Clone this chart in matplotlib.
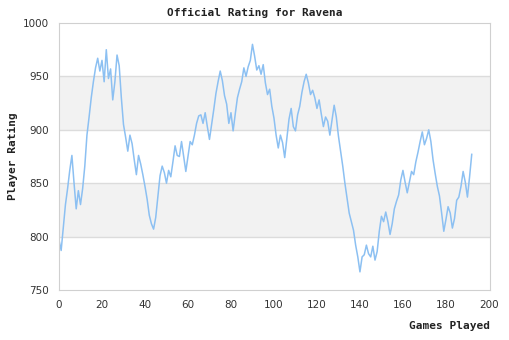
import numpy as np
import matplotlib.pyplot as plt

# ratings, one per game
ratings = [797, 787, 808, 830, 845, 862, 876, 850, 826, 843,
           830, 845, 866, 895, 912, 930, 945, 958, 967, 955,
           965, 945, 975, 948, 957, 928, 945, 970, 960, 930,
           905, 893, 880, 895, 887, 872, 858, 876, 868, 858,
           847, 835, 820, 812, 807, 818, 838, 857, 866, 860,
           850, 862, 856, 870, 885, 876, 875, 889, 875, 861,
           875, 889, 886, 895, 906, 913, 914, 906, 916, 903,
           891, 905, 919, 934, 945, 955, 946, 932, 924, 906,
           916, 899, 915, 930, 938, 945, 958, 950, 959, 965,
           980, 969, 956, 960, 952, 961, 944, 933, 938, 922,
           911, 895, 883, 895, 888, 874, 892, 910, 920, 903,
           899, 914, 922, 935, 945, 952, 944, 933, 937, 930,
           920, 928, 915, 903, 912, 908, 895, 909, 923, 912,
           894, 880, 866, 850, 836, 822, 814, 806, 792, 781,
           767, 781, 783, 792, 784, 781, 791, 778, 786, 805,
           819, 814, 823, 814, 802, 812, 826, 833, 839, 853,
           862, 851, 841, 851, 861, 858, 870, 879, 889, 898,
           886, 892, 900, 889, 872, 859, 847, 838, 822, 805,
           816, 828, 822, 808, 817, 834, 837, 847, 861, 851,
           837, 856, 877]
games = np.arange(len(ratings))

yticks = [750, 800, 850, 900, 950, 1000]
xticks = [0, 20, 40, 60, 80, 100, 120, 140, 160, 180, 200]
bands = [(800, 850), (900, 950)]

fig = plt.figure(figsize=(5.1, 3.4), dpi=100)
ax = fig.add_axes([59/510, 50/340, 431/510, 267/340])

for lo, hi in bands:
    ax.axhspan(lo, hi, color='#f2f2f2', zorder=0, lw=0)
for y in yticks[1:-1]:
    ax.axhline(y, color='#dcdcdc', lw=1, zorder=1)

ax.plot(games, ratings, color='#8cc0f2', lw=1.1, zorder=2)

ax.set_xlim(0, 200.5)
ax.set_ylim(750, 1000)
ax.set_xticks(xticks)
ax.set_yticks(yticks)
ax.tick_params(length=0, labelsize=7.5, labelcolor='#333333', pad=7)
for s in ax.spines.values():
    s.set_color('#d0d0d0')

mono = dict(family='DejaVu Sans Mono', weight='bold', size=8, color='#222222')
fig.suptitle('Official Rating for Ravena', y=0.978, **mono)
ax.set_xlabel('Games Played', loc='right', labelpad=8, **mono)
ax.set_ylabel('Player Rating', labelpad=4, **mono)

fig.savefig('out.png', dpi=100)
